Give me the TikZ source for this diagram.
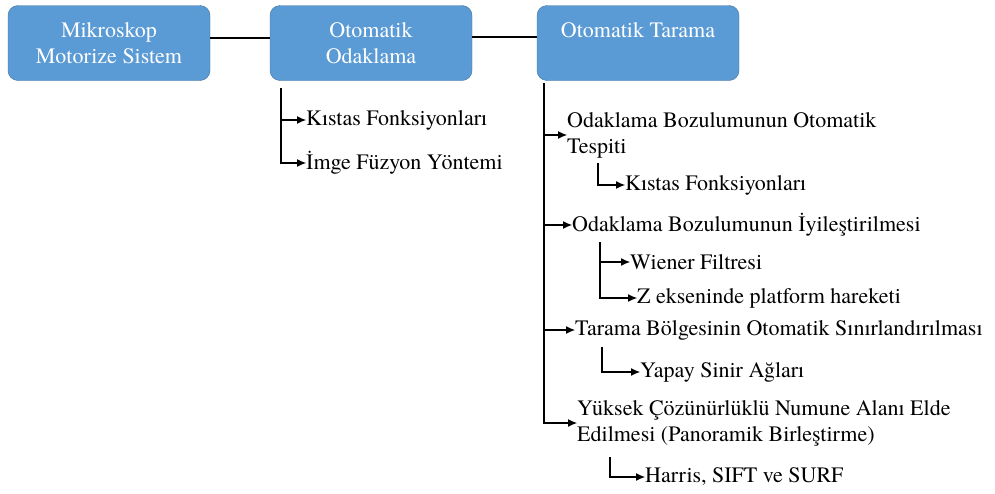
\documentclass[tikz,border=0pt]{standalone}
\usepackage{fontspec}
\setmainfont{TeX Gyre Termes}
\usepackage{xcolor}
\usetikzlibrary{arrows.meta}
\definecolor{kutumavi}{HTML}{5B9BD5}
\definecolor{kutukenar}{HTML}{41719C}

\begin{document}
\begin{tikzpicture}[x=1pt,y=-1pt,
  kutu/.style={draw=kutukenar,fill=kutumavi,rounded corners=10pt,minimum width=202pt,minimum height=75pt,
    text=white,align=center,inner sep=0pt,font=\fontsize{22}{26}\selectfont},
  madde/.style={anchor=west,inner sep=0pt,align=left,font=\fontsize{22}{26}\selectfont},
  ok/.style={-{Latex[length=9pt,width=8pt]},line width=1.1pt}]
\useasboundingbox (0,0) rectangle (995,493);
% ana kutular
\node (mikroskop) [kutu] at (109,43) {Mikroskop\\Motorize Sistem};
\node (odak) [kutu] at (371,43) {Otomatik\\Odaklama};
\node (tarama) [kutu] at (638,43) {Otomatik Tarama\\\mbox{}};
\draw[line width=1.1pt] ([yshift=5pt]mikroskop.east) -- ([yshift=5pt]odak.west);
\draw[line width=1.1pt] ([yshift=6pt]odak.east) -- ([yshift=6pt]tarama.west);

% otomatik odaklama
\coordinate (odakkok) at (281,88);
\node (kistasA) [madde] at (306,120) {Kıstas Fonksiyonları};
\node (imge) [madde] at (306,163) {İmge Füzyon Yöntemi};
\foreach \n in {kistasA,imge}
  \draw[ok] (odakkok) |- (\n.west);

% otomatik tarama
\coordinate (taramakok) at (544,83);
\node (tespit) [madde] at (567,135) {Odaklama Bozulumunun Otomatik\\Tespiti};
\node (iyiles) [madde] at (572,225) {Odaklama Bozulumunun İyileştirilmesi};
\node (sinir) [madde] at (575,330) {Tarama Bölgesinin Otomatik Sınırlandırılması};
\node (yuksek) [madde] at (577,423) {Yüksek Çözünürlüklü Numune Alanı Elde\\Edilmesi (Panoramik Birleştirme)};
\foreach \n in {tespit,iyiles,sinir,yuksek}
  \draw[ok] (taramakok) |- (\n.west);

\coordinate (tespitkok) at (598,163);
\node (kistasB) [madde] at (625,185) {Kıstas Fonksiyonları};
\draw[ok] (tespitkok) |- (kistasB.west);

\coordinate (iyileskok) at (600,242);
\node (wiener) [madde] at (630,262) {Wiener Filtresi};
\node (zeksen) [madde] at (637,298) {Z ekseninde platform hareketi};
\foreach \n in {wiener,zeksen}
  \draw[ok] (iyileskok) |- (\n.west);

\coordinate (sinirkok) at (602,347);
\node (yapay) [madde] at (640,372) {Yapay Sinir Ağları};
\draw[ok] (sinirkok) |- (yapay.west);

\coordinate (yuksekkok) at (610,457);
\node (harris) [madde] at (645,477) {Harris, SIFT ve SURF};
\draw[ok] (yuksekkok) |- (harris.west);
\end{tikzpicture}
\end{document}
